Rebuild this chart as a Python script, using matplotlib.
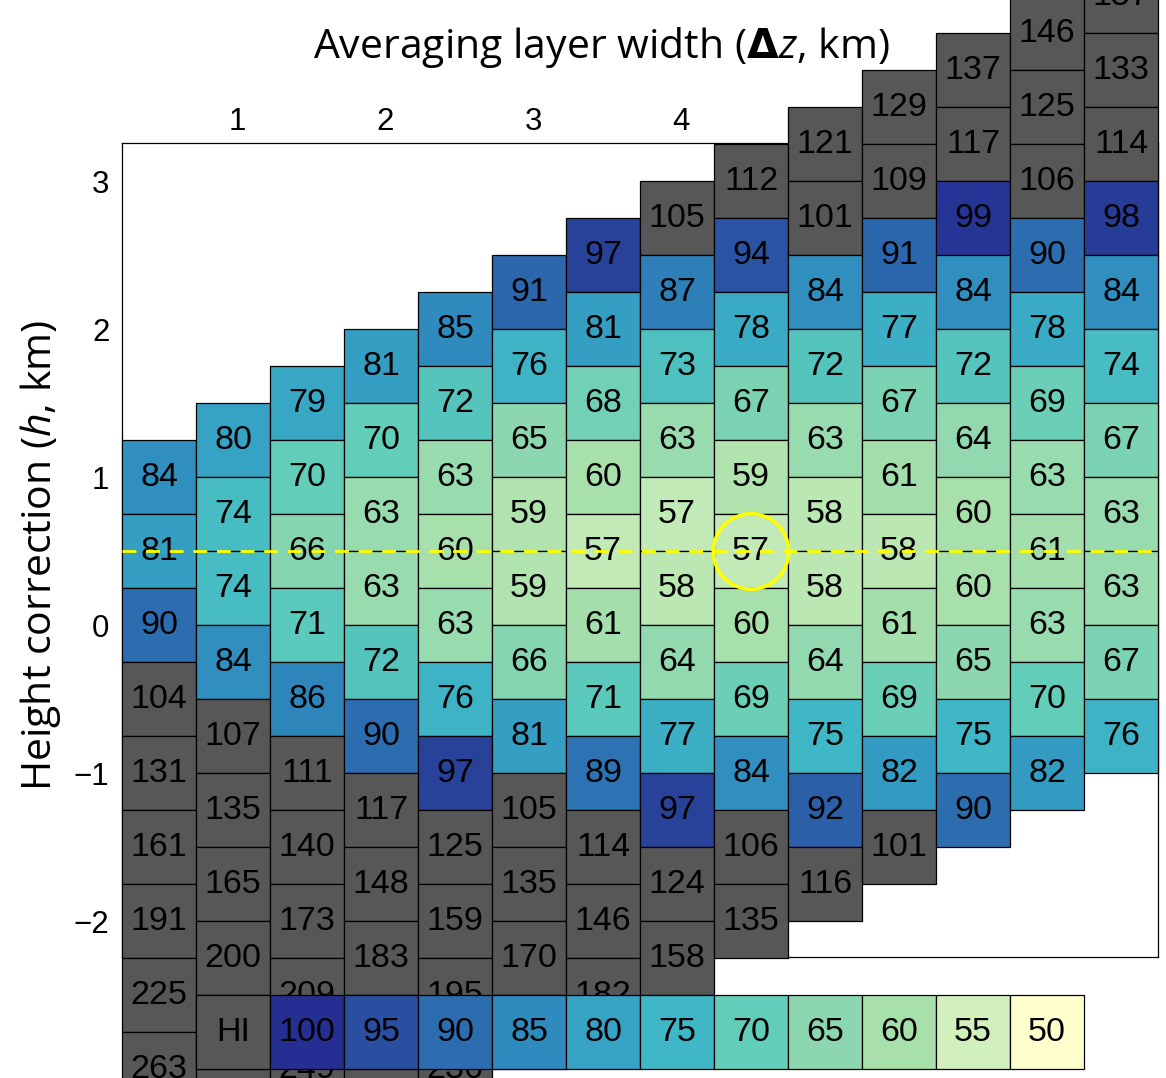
import matplotlib
matplotlib.use("Agg")
import matplotlib.pyplot as plt
import matplotlib.patches as mpatches
from matplotlib.colors import LinearSegmentedColormap, Normalize
from matplotlib.transforms import ScaledTranslation

plt.rcParams['mathtext.fontset'] = 'custom'
plt.rcParams['mathtext.rm'] = 'Open Sans'
plt.rcParams['mathtext.it'] = 'Open Sans:italic'
plt.rcParams['mathtext.bf'] = 'DejaVu Sans:bold'

# averaging layer width for each column (km) and height of its top cell (km)
dz = [0.5, 1.0, 1.5, 2.0, 2.5, 3.0, 3.5, 4.0, 4.5, 5.0, 5.5, 6.0, 6.5, 7.0]
h_top = [1.0, 1.25, 1.5, 1.75, 2.0, 2.25, 2.5, 2.75, 3.0, 3.25, 3.5, 3.75, 4.0, 4.25]

# cell values, top to bottom, one list per column
cols = [
    [84, 81, 90, 104, 131, 161, 191, 225, 263],
    [80, 74, 74, 84, 107, 135, 165, 200, 236, 275],
    [79, 70, 66, 71, 86, 111, 140, 173, 209, 249],
    [81, 70, 63, 63, 72, 90, 117, 148, 183, 221, 262],
    [85, 72, 63, 60, 63, 76, 97, 125, 159, 195, 236],
    [91, 76, 65, 59, 59, 66, 81, 105, 135, 170, 207],
    [97, 81, 68, 60, 57, 61, 71, 89, 114, 146, 182],
    [105, 87, 73, 63, 57, 58, 64, 77, 97, 124, 158],
    [112, 94, 78, 67, 59, 57, 60, 69, 84, 106, 135],
    [121, 101, 84, 72, 63, 58, 58, 64, 75, 92, 116],
    [129, 109, 91, 77, 67, 61, 58, 61, 69, 82, 101],
    [137, 117, 99, 84, 72, 64, 60, 60, 65, 75, 90],
    [146, 125, 106, 90, 78, 69, 63, 61, 63, 70, 82],
    [157, 133, 114, 98, 84, 74, 67, 63, 63, 67, 76],
]

# colour key
key_labels = ["HI", "100", "95", "90", "85", "80", "75", "70", "65", "60", "55", "50"]
key_vals = [100, 95, 90, 85, 80, 75, 70, 65, 60, 55, 50]
key_colors = ["#252f92", "#2a4fa0", "#2c6db0", "#2f8bbd", "#36a3c4", "#40b7c6",
              "#62cdb8", "#8cd7b0", "#a8e0ab", "#d1f0bc", "#ffffcd"]

best_dz, best_h = 4.5, 0.5
cell_w, cell_h = 0.5, 0.5
key_h = -2.75
gray = "#575757"

cmap = LinearSegmentedColormap.from_list("key", list(zip(
    [(v - 50) / 50 for v in key_vals], key_colors))[::-1])
norm = Normalize(50, 100)


def cell_color(v):
    if v > 100:
        return gray
    return cmap(norm(v))


fig = plt.figure(figsize=(11.66, 10.78), dpi=100)
ax = fig.add_axes([122 / 1166, 121 / 1078, 1036 / 1166, 814 / 1078])
ax.set_xlim(0.25, 7.25)
ax.set_ylim(-2.24, 3.26)

for x, top, vals in zip(dz, h_top, cols):
    for i, v in enumerate(vals):
        y = top - i * cell_h
        ax.add_patch(mpatches.Rectangle((x - cell_w / 2, y - cell_h / 2), cell_w, cell_h,
                                        fc=cell_color(v), ec="black", lw=0.9,
                                        clip_on=False, zorder=3))
        if y != key_h:  # these ones sit under the key anyway
            ax.text(x, y, str(v), ha="center", va="center", fontsize=24.5,
                    family="Liberation Sans", zorder=4, clip_on=False)

# key row below the grid
for x, lab in zip(dz[1:], key_labels):
    fc = gray if lab == "HI" else cell_color(int(lab))
    ax.add_patch(mpatches.Rectangle((x - cell_w / 2, key_h - cell_h / 2), cell_w, cell_h,
                                    fc=fc, ec="black", lw=0.9, clip_on=False, zorder=5))
    ax.text(x, key_h, lab, ha="center", va="center", fontsize=24.5,
            family="Liberation Sans", zorder=6, clip_on=False)

ax.axhline(best_h, color="#ffff00", lw=2, ls=(0, (5, 3.5)), zorder=7)
ax.add_patch(mpatches.Circle((best_dz, best_h), 0.255, fill=False, ec="#ffff00",
                             lw=2.5, zorder=7))

ax.xaxis.tick_top()
ax.set_xticks([1, 2, 3, 4])
ax.set_yticks([-2, -1, 0, 1, 2, 3])
ax.tick_params(length=0, labelsize=22.5)
ax.tick_params(axis="x", pad=4)
ax.tick_params(axis="y", pad=9)
shift = ScaledTranslation(4 / 100, 0, fig.dpi_scale_trans)
for lab in ax.get_xticklabels():
    lab.set_family("Liberation Sans")
    lab.set_transform(lab.get_transform() + shift)
for lab in ax.get_yticklabels():
    lab.set_family("Liberation Sans")
for s in ax.spines.values():
    s.set_linewidth(0.9)

fig.text(601 / 1166, 1 - 48 / 1078, r"Averaging layer width ($\mathbf{\Delta}\mathit{z}$, km)",
         ha="center", va="center", fontsize=29.5, family="Open Sans")
fig.text(41 / 1166, 1 - 555 / 1078, r"Height correction ($\mathit{h}$, km)",
         ha="center", va="center", rotation=90, fontsize=29.5, family="Open Sans")

fig.savefig("out.png", dpi=100)
